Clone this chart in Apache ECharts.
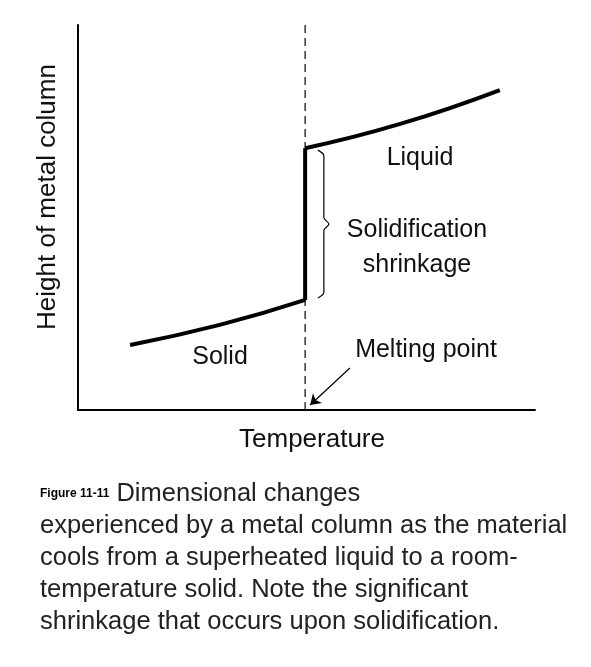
<!DOCTYPE html>
<html>
<head>
<meta charset="utf-8">
<script src="https://cdn.jsdelivr.net/npm/echarts@6/dist/echarts.min.js"></script>
<style>
  html, body { margin: 0; padding: 0; background: #fff; }
  #chart { width: 591px; height: 667px; }
</style>
</head>
<body>
<div id="chart"></div>
<script>
// curve pieces, in axis units (0-100 both ways)
var solidCurve = [[11.4, 16.9], [31, 22.1], [49.7, 28.6]];
var jumpLine = [[49.7, 28.6], [49.7, 68]];
var liquidCurve = [[49.7, 68], [70.5, 74.3], [92.3, 83.1]];
var meltingX = 49.7;
var bracePts = [[52.5, 67.5], [53.8, 66], [53.8, 50], [54.9, 48.3], [53.8, 46.6], [53.8, 30.6], [52.5, 29.1]];
var arrowPts = [[59.5, 10.9], [50.8, 1.3]];
var captionLines = [
  'experienced by a metal column as the material',
  'cools from a superheated liquid to a room-',
  'temperature solid. Note the significant',
  'shrinkage that occurs upon solidification.'
];

var font = '"Liberation Sans", Arial, sans-serif';
var chart = echarts.init(document.getElementById('chart'));

function txt(x, y, s, size) {
  return { type: 'text', x: x, y: y,
    style: { text: s, font: (size || 25) + 'px ' + font, fill: '#111', textAlign: 'center', textVerticalAlign: 'middle' } };
}

var graphics = [
  txt(420, 158, 'Liquid'),
  txt(417, 230, 'Solidification'),
  txt(417, 265, 'shrinkage'),
  txt(220, 357, 'Solid'),
  txt(426, 350, 'Melting point'),
  txt(312, 440, 'Temperature', 26),
  { type: 'text', x: 48, y: 197, rotation: Math.PI / 2,
    style: { text: 'Height of metal column', font: '26px ' + font, fill: '#111', textAlign: 'center', textVerticalAlign: 'middle' } },
  { type: 'text', x: 40, y: 494,
    style: { text: '{b|Figure 11-11} Dimensional changes', font: '25.5px ' + font, fill: '#222', textVerticalAlign: 'middle',
      rich: { b: { font: '25.5px ' + font, fill: '#000', fontWeight: 'bold' } } } }
];
captionLines.forEach(function (l, i) {
  graphics.push({ type: 'text', x: 40, y: 526 + i * 32,
    style: { text: l, font: '25.5px ' + font, fill: '#222', textVerticalAlign: 'middle' } });
});

var thick = { color: '#000', width: 4 };
chart.setOption({
  animation: false,
  grid: { left: 78, top: 25, width: 457, height: 385 },
  xAxis: { type: 'value', min: 0, max: 100, axisLine: { lineStyle: { color: '#000', width: 2 } },
    axisTick: { show: false }, axisLabel: { show: false }, splitLine: { show: false } },
  yAxis: { type: 'value', min: 0, max: 100, axisLine: { show: true, lineStyle: { color: '#000', width: 2 } },
    axisTick: { show: false }, axisLabel: { show: false }, splitLine: { show: false } },
  graphic: graphics,
  series: [
    { type: 'line', data: [[meltingX, 0], [meltingX, 100]], symbol: 'none',
      lineStyle: { color: '#000', width: 1.2, type: [8, 5] } },
    { type: 'line', data: solidCurve, smooth: true, symbol: 'none', lineStyle: thick },
    { type: 'line', data: jumpLine, symbol: 'none', lineStyle: thick },
    { type: 'line', data: liquidCurve, smooth: true, symbol: 'none', lineStyle: thick },
    { type: 'line', data: bracePts, smooth: 0.3, symbol: 'none', lineStyle: { color: '#000', width: 1.2 } },
    { type: 'lines', coordinateSystem: 'cartesian2d', polyline: false,
      symbol: ['none', 'arrow'], symbolSize: 10,
      data: [{ coords: arrowPts }], lineStyle: { color: '#000', width: 1.2, opacity: 1 } }
  ]
});
</script>
</body>
</html>
